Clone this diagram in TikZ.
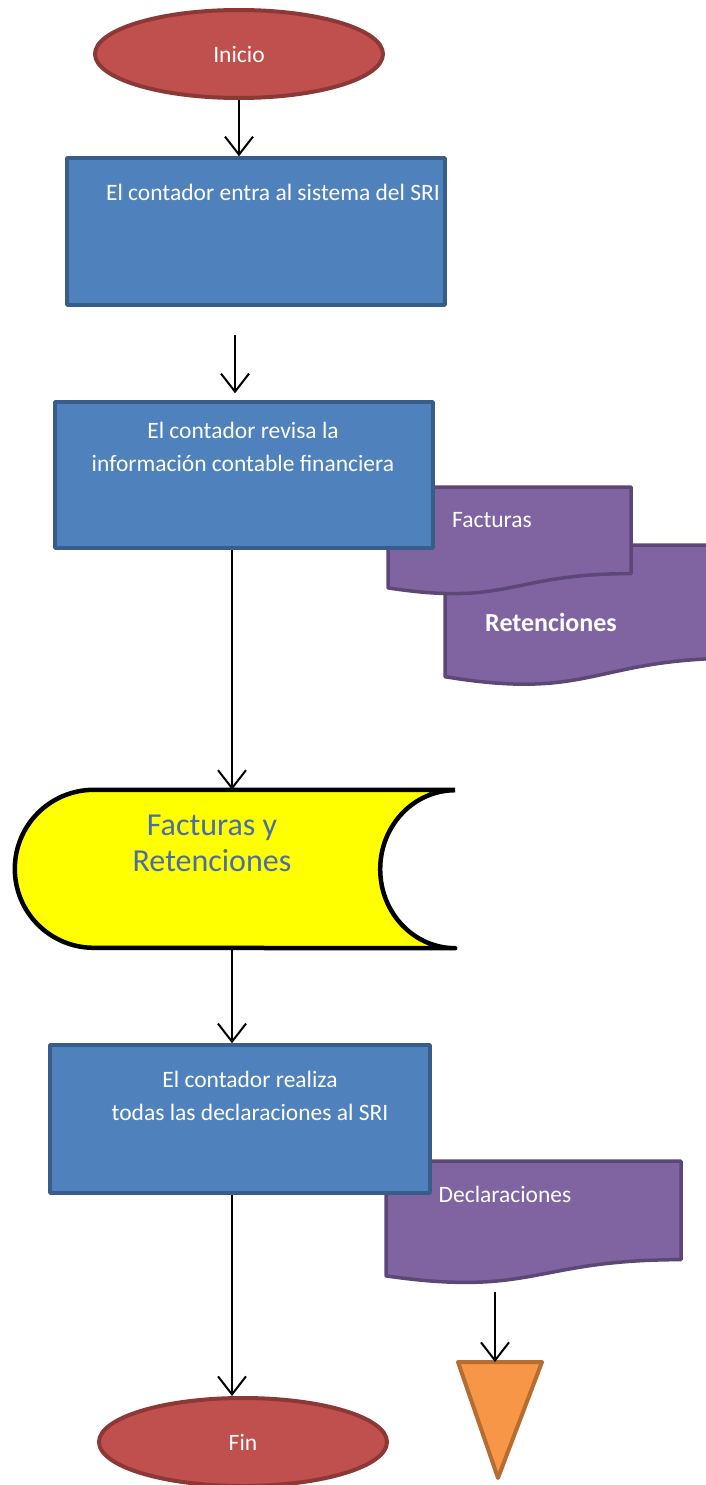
\documentclass[tikz,border=0pt]{standalone}
\usepackage{fontspec}
\setmainfont{Carlito}
\usetikzlibrary{shapes.geometric,arrows.meta,calc}
\definecolor{rojo}{HTML}{C0504D}
\definecolor{rojob}{HTML}{8C3836}
\definecolor{azul}{HTML}{4F81BD}
\definecolor{azulb}{HTML}{385D8A}
\definecolor{morado}{HTML}{8064A2}
\definecolor{moradob}{HTML}{5C4776}
\definecolor{naranja}{HTML}{F79646}
\definecolor{naranjab}{HTML}{B66D31}
\definecolor{amarillo}{HTML}{FFFF00}
\definecolor{azult}{HTML}{4A6FA8}
\newcommand{\documento}[4]{%
  \draw[doc] (#1,#2)--(#3,#2)--(#3,{#2+0.802*#4}) .. controls ({(#1+#3)/2},{#2+0.802*#4}) and ({(#1+#3)/2},{#2+1.107*#4}) .. (#1,{#2+0.934*#4})--cycle;}
\begin{document}
\begin{tikzpicture}[x=1pt,y=-1pt,font=\fontsize{23.5}{33}\selectfont,line join=round,
	term/.style={ellipse,draw=rojob,fill=rojo,line width=4pt,minimum width=288pt,minimum height=88pt,inner sep=0pt,text=white},
	proc/.style={draw=azulb,fill=azul,line width=3.5pt,inner sep=0pt},
	doc/.style={draw=moradob,fill=morado,line width=3.5pt},
	txt/.style={text=white,align=center},
	arr/.style={line width=2pt,-{Straight Barb[length=18pt,width=28pt,line width=2pt]}}]
	\useasboundingbox (0,0) rectangle (705,1485);
	\documento{445}{545}{740}{141}
	\documento{388}{487}{631}{108}
	\documento{386}{1161}{681}{123}
	\node[term] (ini) at (239,54) {Inicio};
	\node[proc,minimum width=378pt,minimum height=147pt] (p1) at (256,231.5) {};
	\node[proc,minimum width=378pt,minimum height=146pt] (p2) at (244,475) {};
	\node[proc,minimum width=380pt,minimum height=148pt] (p3) at (240,1119) {};
	\node[minimum width=440pt,minimum height=158pt,inner sep=0pt] (alm) at (235,869) {};
	\draw[line width=4.5pt,fill=amarillo] (alm.north east)--($(alm.north west)+(79,0)$) arc[start angle=90,end angle=270,radius=79pt]
		--(alm.south east) arc[start angle=270,end angle=90,x radius=75pt,y radius=79pt];
	\node[term] (fin) at (243,1442) {Fin};
	\draw[line width=4pt,draw=naranjab,fill=naranja] (458,1362)--(542,1362)--(498,1478)--cycle;
	\coordinate (tri) at (495,1362);
	\node[txt] (t1) at (273,192) {El contador entra al sistema del SRI};
	\node[txt] (t2) at (243,447) {El contador revisa la\\información contable financiera};
	\node[txt] (t3) at (250,1096) {El contador realiza\\todas las declaraciones al SRI};
	\node[txt] (fac) at (492,520) {Facturas};
	\node[txt,font=\fontsize{26}{30}\selectfont\bfseries] (ret) at (551,622) {Retenciones};
	\node[txt] (dec) at (505,1194) {Declaraciones};
	\node[text=azult,align=center,font=\fontsize{32}{36}\selectfont] (almt) at (212,843) {Facturas y\\Retenciones};
	\coordinate (eje) at (232,0);
	\coordinate (a1) at ($(p1.south)+(-21,28)$);
	\coordinate (d1) at (495,1292);
	\draw[arr] (ini.south)--(ini.south |- p1.north);
	\draw[arr,shorten >=7pt] (a1)--(a1 |- p2.north);
	\draw[arr] (p2.south -| eje)--(alm.north -| eje);
	\draw[arr] (alm.south -| eje)--(p3.north -| eje);
	\draw[arr] (p3.south -| eje)--(fin.north -| eje);
	\draw[arr] (d1)--(tri);
\end{tikzpicture}
\end{document}
